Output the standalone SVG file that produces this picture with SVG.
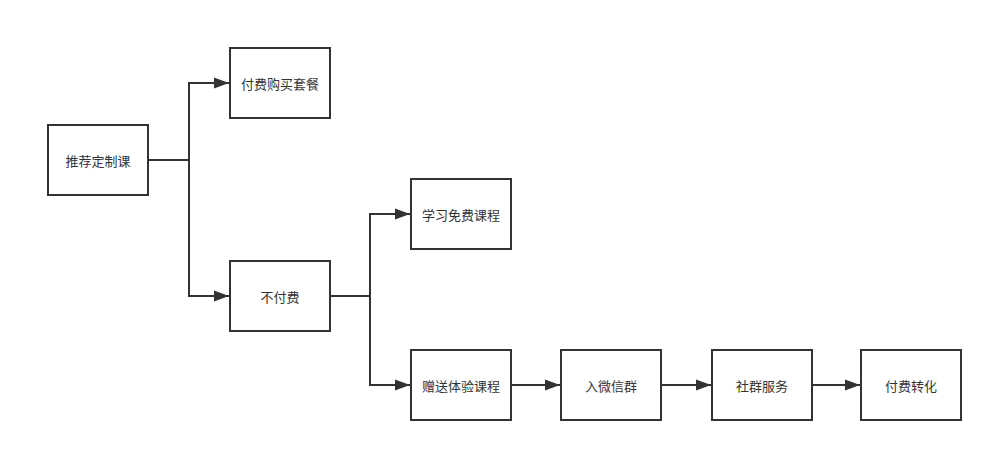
<svg xmlns="http://www.w3.org/2000/svg" width="993" height="452" viewBox="0 0 993 452">
<style>
.box{fill:#fff;stroke:#333;stroke-width:2}
.lbl{font-family:"Noto Sans CJK SC","Liberation Sans",sans-serif;font-size:13px;fill:#333;text-anchor:middle;dominant-baseline:central}
.ln{fill:none;stroke:#333;stroke-width:2}
</style>
<defs>
<marker id="ah" markerUnits="userSpaceOnUse" markerWidth="16" markerHeight="12" refX="15" refY="6" orient="auto">
<path d="M0,0.5 L15,6 L0,11.5 Z" fill="#333"/>
</marker>
</defs>
<rect width="993" height="452" fill="#fff"/>
<g id="connectors">
<path class="ln" d="M148,160 H189 V83 H229" marker-end="url(#ah)"/>
<path class="ln" d="M189,160 V296 H229" marker-end="url(#ah)"/>
<path class="ln" d="M330,296 H370 V214 H410" marker-end="url(#ah)"/>
<path class="ln" d="M370,296 V385 H410" marker-end="url(#ah)"/>
<path class="ln" d="M511,385 H560" marker-end="url(#ah)"/>
<path class="ln" d="M661,385 H711" marker-end="url(#ah)"/>
<path class="ln" d="M812,385 H860" marker-end="url(#ah)"/>
</g>
<g id="n1"><rect class="box" x="48" y="125" width="100" height="70"/><text class="lbl" x="98" y="160">推荐定制课</text></g>
<g id="n2"><rect class="box" x="230" y="48" width="100" height="70"/><text class="lbl" x="280" y="83">付费购买套餐</text></g>
<g id="n3"><rect class="box" x="230" y="261" width="100" height="70"/><text class="lbl" x="280" y="296">不付费</text></g>
<g id="n4"><rect class="box" x="411" y="179" width="100" height="70"/><text class="lbl" x="461" y="214">学习免费课程</text></g>
<g id="n5"><rect class="box" x="411" y="350" width="100" height="70"/><text class="lbl" x="461" y="385">赠送体验课程</text></g>
<g id="n6"><rect class="box" x="561" y="350" width="100" height="70"/><text class="lbl" x="611" y="385">入微信群</text></g>
<g id="n7"><rect class="box" x="712" y="350" width="100" height="70"/><text class="lbl" x="762" y="385">社群服务</text></g>
<g id="n8"><rect class="box" x="861" y="350" width="100" height="70"/><text class="lbl" x="911" y="385">付费转化</text></g>
</svg>
